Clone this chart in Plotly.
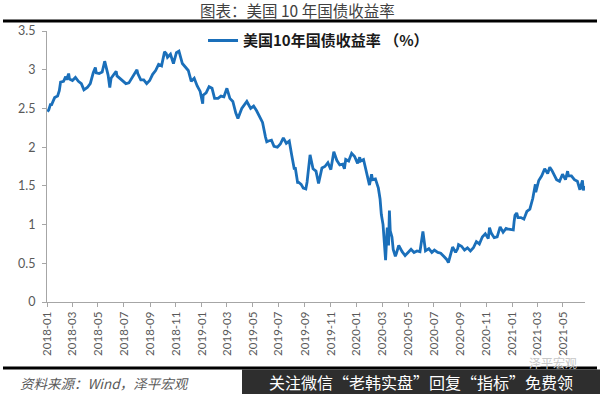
import plotly.graph_objects as go

# ---- data ----
dates = [
    "2018-01-02","2018-01-05","2018-01-09","2018-01-12","2018-01-19","2018-01-26","2018-01-30",
    "2018-02-02","2018-02-09","2018-02-14","2018-02-16","2018-02-21","2018-02-23",
    "2018-03-02","2018-03-09","2018-03-16","2018-03-23","2018-03-29",
    "2018-04-06","2018-04-13","2018-04-20","2018-04-25","2018-04-27",
    "2018-05-04","2018-05-11","2018-05-17","2018-05-25","2018-05-29",
    "2018-06-01","2018-06-08","2018-06-13","2018-06-15","2018-06-22","2018-06-29",
    "2018-07-06","2018-07-13","2018-07-20","2018-07-27",
    "2018-08-01","2018-08-03","2018-08-10","2018-08-17","2018-08-24","2018-08-31",
    "2018-09-07","2018-09-14","2018-09-21","2018-09-28",
    "2018-10-05","2018-10-09","2018-10-12","2018-10-19","2018-10-26",
    "2018-11-02","2018-11-08","2018-11-16","2018-11-23","2018-11-30",
    "2018-12-07","2018-12-14","2018-12-21","2018-12-28",
    "2019-01-03","2019-01-04","2019-01-11","2019-01-18","2019-01-25","2019-01-31",
    "2019-02-08","2019-02-15","2019-02-22",
    "2019-03-01","2019-03-08","2019-03-15","2019-03-22","2019-03-27",
    "2019-04-05","2019-04-12","2019-04-17","2019-04-26",
    "2019-05-03","2019-05-10","2019-05-17","2019-05-24","2019-05-31",
    "2019-06-03","2019-06-07","2019-06-14","2019-06-20","2019-06-28",
    "2019-07-05","2019-07-12","2019-07-19","2019-07-26",
    "2019-08-01","2019-08-07","2019-08-09","2019-08-15","2019-08-16","2019-08-23","2019-08-28",
    "2019-09-03","2019-09-06","2019-09-13","2019-09-20","2019-09-27",
    "2019-10-03","2019-10-11","2019-10-18","2019-10-25",
    "2019-11-01","2019-11-08","2019-11-15","2019-11-22","2019-11-29",
    "2019-12-03","2019-12-06","2019-12-13","2019-12-20","2019-12-27",
    "2020-01-03","2020-01-08","2020-01-10","2020-01-17","2020-01-24","2020-01-31",
    "2020-02-05","2020-02-07","2020-02-14","2020-02-21","2020-02-25","2020-02-28",
    "2020-03-03","2020-03-06","2020-03-09","2020-03-12","2020-03-13","2020-03-16","2020-03-18",
    "2020-03-20","2020-03-24","2020-03-27",
    "2020-04-01","2020-04-03","2020-04-09","2020-04-17","2020-04-24",
    "2020-05-01","2020-05-08","2020-05-15","2020-05-22","2020-05-29",
    "2020-06-05","2020-06-11","2020-06-19","2020-06-26",
    "2020-07-02","2020-07-10","2020-07-17","2020-07-24","2020-07-31",
    "2020-08-04","2020-08-07","2020-08-14","2020-08-21","2020-08-26","2020-08-28",
    "2020-09-04","2020-09-11","2020-09-18","2020-09-25",
    "2020-10-02","2020-10-09","2020-10-16","2020-10-23","2020-10-30",
    "2020-11-06","2020-11-09","2020-11-13","2020-11-20","2020-11-27",
    "2020-12-04","2020-12-11","2020-12-18","2020-12-24","2020-12-31",
    "2021-01-04","2021-01-06","2021-01-08","2021-01-12","2021-01-15","2021-01-22","2021-01-29",
    "2021-02-05","2021-02-12","2021-02-19","2021-02-25","2021-02-26",
    "2021-03-05","2021-03-12","2021-03-18","2021-03-19","2021-03-26","2021-03-31",
    "2021-04-05","2021-04-09","2021-04-16","2021-04-23","2021-04-30",
    "2021-05-07","2021-05-12","2021-05-14","2021-05-21","2021-05-28",
    "2021-06-04","2021-06-10","2021-06-16","2021-06-18","2021-06-21",
]
yield_10y = [
    2.46,2.48,2.55,2.55,2.64,2.66,2.73,
    2.84,2.85,2.91,2.87,2.95,2.88,
    2.86,2.90,2.85,2.82,2.74,
    2.77,2.82,2.96,3.03,2.96,
    2.95,2.97,3.11,2.93,2.77,
    2.89,2.94,2.98,2.92,2.89,2.85,
    2.82,2.83,2.89,2.96,
    3.00,2.95,2.87,2.87,2.82,2.86,
    2.94,2.99,3.07,3.05,
    3.23,3.21,3.16,3.20,3.08,
    3.22,3.24,3.08,3.04,2.99,
    2.85,2.89,2.79,2.72,
    2.56,2.67,2.70,2.78,2.76,2.63,
    2.63,2.66,2.65,
    2.76,2.63,2.59,2.44,2.37,
    2.50,2.56,2.59,2.50,
    2.53,2.47,2.39,2.32,2.13,
    2.07,2.08,2.09,2.01,2.00,
    2.04,2.12,2.05,2.08,
    1.89,1.71,1.74,1.53,1.55,1.52,1.47,
    1.46,1.55,1.90,1.72,1.69,
    1.53,1.73,1.75,1.80,
    1.71,1.94,1.83,1.77,1.78,
    1.72,1.84,1.82,1.92,1.88,
    1.79,1.87,1.82,1.84,1.68,1.51,
    1.65,1.58,1.59,1.47,1.33,1.13,
    1.00,0.71,0.54,0.88,0.96,0.73,1.18,
    0.92,0.84,0.68,
    0.59,0.62,0.73,0.65,0.60,
    0.64,0.68,0.64,0.66,0.65,
    0.91,0.66,0.69,0.64,
    0.67,0.64,0.63,0.59,0.55,
    0.51,0.57,0.71,0.64,0.69,0.74,
    0.72,0.67,0.70,0.66,
    0.70,0.78,0.75,0.84,0.88,
    0.82,0.96,0.89,0.83,0.84,
    0.97,0.90,0.95,0.94,0.93,
    0.93,1.04,1.12,1.15,1.09,1.09,1.07,
    1.17,1.20,1.34,1.52,1.42,
    1.57,1.63,1.71,1.72,1.66,1.74,
    1.70,1.66,1.58,1.56,1.65,
    1.58,1.69,1.63,1.63,1.58,
    1.56,1.45,1.57,1.44,1.50,
]

series_name = "美国10年国债收益率 （%）"
title_text = "图表：美国 10 年国债收益率"
source_text = "资料来源：Wind，泽平宏观"
banner_text = "关注微信“老韩实盘”回复“指标”免费领"
watermark_text = "泽平宏观"

CJK = "Noto Sans CJK SC"
NUM = "Lato, Liberation Sans, sans-serif"

fig = go.Figure()
fig.add_trace(go.Scatter(
    x=dates, y=yield_10y, mode="lines", name=series_name,
    line=dict(color="#1a6fba", width=2.8),
))

W, H = 600, 394
L, R, T, B = 47, 15, 31, 92

fig.update_layout(
    width=W, height=H,
    margin=dict(l=L, r=R, t=T, b=B, pad=0),
    paper_bgcolor="white", plot_bgcolor="white",
    showlegend=True,
    legend=dict(
        x=0.29, y=1.025, xanchor="left", yanchor="top",
        bgcolor="rgba(0,0,0,0)",
        font=dict(family=CJK, size=15, color="#1a1a1a", weight="bold"),
        itemwidth=30,
    ),
    xaxis=dict(
        type="date", range=["2018-01-01", "2021-06-22"],
        tick0="2018-01-01", dtick="M2", tickformat="%Y-%m", tickangle=-90,
        showline=True, linecolor="#a6a6a6", linewidth=1,
        ticks="outside", ticklen=4, tickcolor="#a6a6a6",
        showgrid=False, zeroline=False,
        tickfont=dict(family=NUM, size=11.5, color="#595959"),
    ),
    yaxis=dict(
        range=[0, 3.5], dtick=0.5, tick0=0,
        showline=True, linecolor="#a6a6a6", linewidth=1,
        ticks="outside", ticklen=4, tickcolor="#a6a6a6",
        showgrid=False, zeroline=False, ticklabelstandoff=4,
        tickfont=dict(family=NUM, size=12.5, color="#595959"),
    ),
)

pw = W - L - R
ph = H - T - B

def px(x):
    return (x - L) / pw

def py(y):
    return (H - B - y) / ph

# title & rules
fig.add_annotation(x=px(297), y=py(10), xref="paper", yref="paper", text=title_text,
                   showarrow=False, xanchor="center", yanchor="middle",
                   font=dict(family=CJK, size=15.5, color="#404040"))
fig.add_shape(type="line", xref="paper", yref="paper", x0=px(3), x1=px(597), y0=py(21), y1=py(21),
              line=dict(color="black", width=3))
fig.add_shape(type="line", xref="paper", yref="paper", x0=px(3), x1=px(597), y0=py(368), y1=py(368),
              line=dict(color="black", width=3))

# footer
fig.add_annotation(x=px(18), y=py(383), xref="paper", yref="paper", text="<i>" + source_text + "</i>",
                   showarrow=False, xanchor="left", yanchor="middle",
                   font=dict(family=CJK, size=13.5, color="#595959"))
fig.add_shape(type="rect", xref="paper", yref="paper", x0=px(242), x1=px(600), y0=py(369.5), y1=py(394),
              fillcolor="#2e2e2e", line=dict(width=0))
fig.add_annotation(x=px(421), y=py(382), xref="paper", yref="paper", text=banner_text,
                   showarrow=False, xanchor="center", yanchor="middle",
                   font=dict(family=CJK, size=16, color="white"))
fig.add_annotation(x=px(553), y=py(362), xref="paper", yref="paper", text=watermark_text,
                   showarrow=False, xanchor="center", yanchor="middle",
                   font=dict(family=CJK, size=12, color="#c8c8c8"))

fig.write_html("out.html", config={"displayModeBar": False},
               post_script="document.body.style.margin='0';document.body.style.overflow='hidden';")
